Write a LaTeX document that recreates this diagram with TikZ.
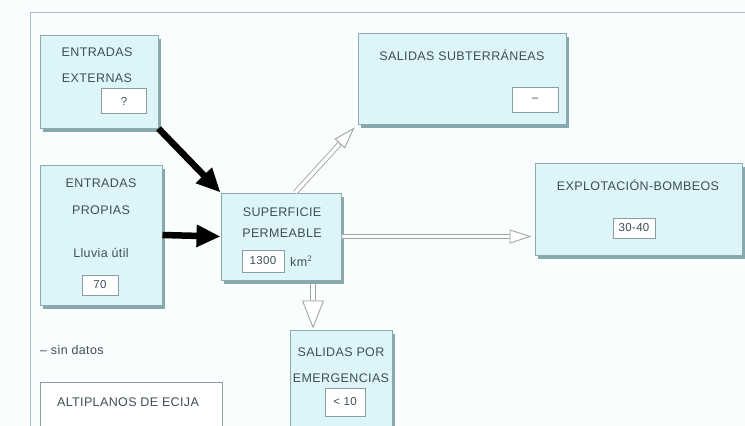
\documentclass[tikz,border=0pt]{standalone}
\usepackage{fontspec}
\setmainfont{Liberation Sans}
\usetikzlibrary{arrows.meta,calc,shadows}
\definecolor{boxfill}{HTML}{DDF5F9}
\definecolor{boxline}{HTML}{8FA9AE}
\definecolor{shadowc}{HTML}{86A9AF}
\definecolor{txt}{HTML}{3E4E57}
\definecolor{hgray}{HTML}{A0A4A6}
\definecolor{frame}{HTML}{A9BDC9}
\definecolor{bg}{HTML}{FAFDFE}
\tikzset{
  x=1pt, y=-1pt,
  panel/.style={draw=boxline, line width=1pt, fill=boxfill, inner sep=0pt,
    drop shadow={shadow xshift=3pt, shadow yshift=-3.5pt, fill=shadowc, opacity=1}},
  valbox/.style={draw=boxline!70!gray, line width=0.9pt, fill=white, inner sep=0pt,
    font=\fontsize{11.5}{13}\selectfont\addfontfeature{LetterSpace=3}, text=txt},
  lbl/.style={font=\fontsize{12.5}{14}\selectfont\addfontfeature{LetterSpace=3}, text=txt, inner sep=0pt},
  thick arrow/.style={draw=black, line width=6.5pt, -{Triangle[length=24pt,width=21pt]}},
  holshaft/.style={draw=hgray, line width=0.9pt, double=white, double distance=3.4pt},
  holhead/.style={draw=hgray, line width=0.9pt, -{Triangle[length=#1,width=14pt,fill=white]}},
  holhead/.default=18pt
}
\begin{document}
\begin{tikzpicture}
\useasboundingbox (0,0) rectangle (745,426);
\begin{scope}
\clip (0,0) rectangle (745,426);
\fill[bg] (0,0) rectangle (745,426);
\draw[frame, line width=1pt] (30,426) -- (30,12) -- (745,12);

% boxes
\node[panel, minimum width=118pt, minimum height=93pt] (ext) at (99,81.5) {};
\node[lbl] (extA) at (97,52) {ENTRADAS};
\node[lbl] (extB) at (97,78) {EXTERNAS};
\node[valbox, minimum width=45pt, minimum height=25pt] (extV) at (124,101) {?};

\node[panel, minimum width=122pt, minimum height=140pt] (prop) at (101,235) {};
\node[lbl] (propA) at (101,183) {ENTRADAS};
\node[lbl] (propB) at (101,210) {PROPIAS};
\node[lbl] (propC) at (101,253) {Lluvia útil};
\node[valbox, minimum width=36pt, minimum height=20pt] (propV) at (100,285) {70};

\node[panel, minimum width=120pt, minimum height=87pt] (sup) at (281,236.5) {};
\node[lbl] (supA) at (282,212) {SUPERFICIE};
\node[lbl] (supB) at (282,233) {PERMEABLE};
\node[valbox, minimum width=42pt, minimum height=22pt] (supV) at (263,261) {1300};
\node[lbl, anchor=west] (supU) at (290,261) {km$^2$};

\node[panel, minimum width=208pt, minimum height=91pt] (subt) at (462,78.5) {};
\node[lbl] (subtA) at (462,55) {SALIDAS SUBTERRÁNEAS};
\node[valbox, minimum width=46pt, minimum height=25pt] (subtV) at (535,100) {–};

\node[panel, minimum width=207pt, minimum height=92pt] (expl) at (638.5,209) {};
\node[lbl] (explA) at (638,185) {EXPLOTACIÓN-BOMBEOS};
\node[valbox, minimum width=42pt, minimum height=20pt] (explV) at (634,228) {30-40};

\node[panel, minimum width=102pt, minimum height=100pt] (emer) at (341,380) {};
\node[lbl] (emerA) at (341,352) {SALIDAS POR};
\node[lbl] (emerB) at (341,378) {EMERGENCIAS};
\node[valbox, minimum width=40pt, minimum height=28pt] (emerV) at (345,402) {< 10};

\node[lbl, anchor=west] (legend) at (40,350) {– sin datos};
\node[draw=boxline!70!gray, line width=1pt, fill=white, minimum width=182pt, minimum height=60pt, inner sep=0pt] (alti) at (131,412) {};
\node[lbl] (altiA) at (128,402) {ALTIPLANOS DE ECIJA};

% thick inflow arrows
\draw[thick arrow] (ext.south east) -- (sup.north west);
\draw[thick arrow] (prop.east) -- (sup.west);

% hollow outflow arrows
\coordinate (s1) at (sup.72);
\coordinate (e1) at ($(subt.south west)+(-3,3)$);
\draw[holshaft, shorten >=14pt] (s1) -- (e1);
\draw[holhead=22pt] ($(e1)!23pt!(s1)$) -- (e1);

\coordinate (s2) at (sup.east);
\coordinate (e2) at ($(sup.east -| expl.west)+(-3,0)$);
\draw[holshaft, shorten >=14pt] (s2) -- (e2);
\draw[holhead=22pt] ($(e2)!23pt!(s2)$) -- (e2);

\coordinate (s3) at ($(sup.south)+(32,3)$);
\coordinate (e3) at ($(emer.north)+(-28,-1)$);
\draw[holshaft, shorten >=24pt] (s3) -- (e3);
\draw[draw=hgray, line width=0.9pt, -{Triangle[length=28pt,width=22pt,fill=white]}] ($(e3)!29pt!(s3)$) -- (e3);
\end{scope}
\end{tikzpicture}
\end{document}
